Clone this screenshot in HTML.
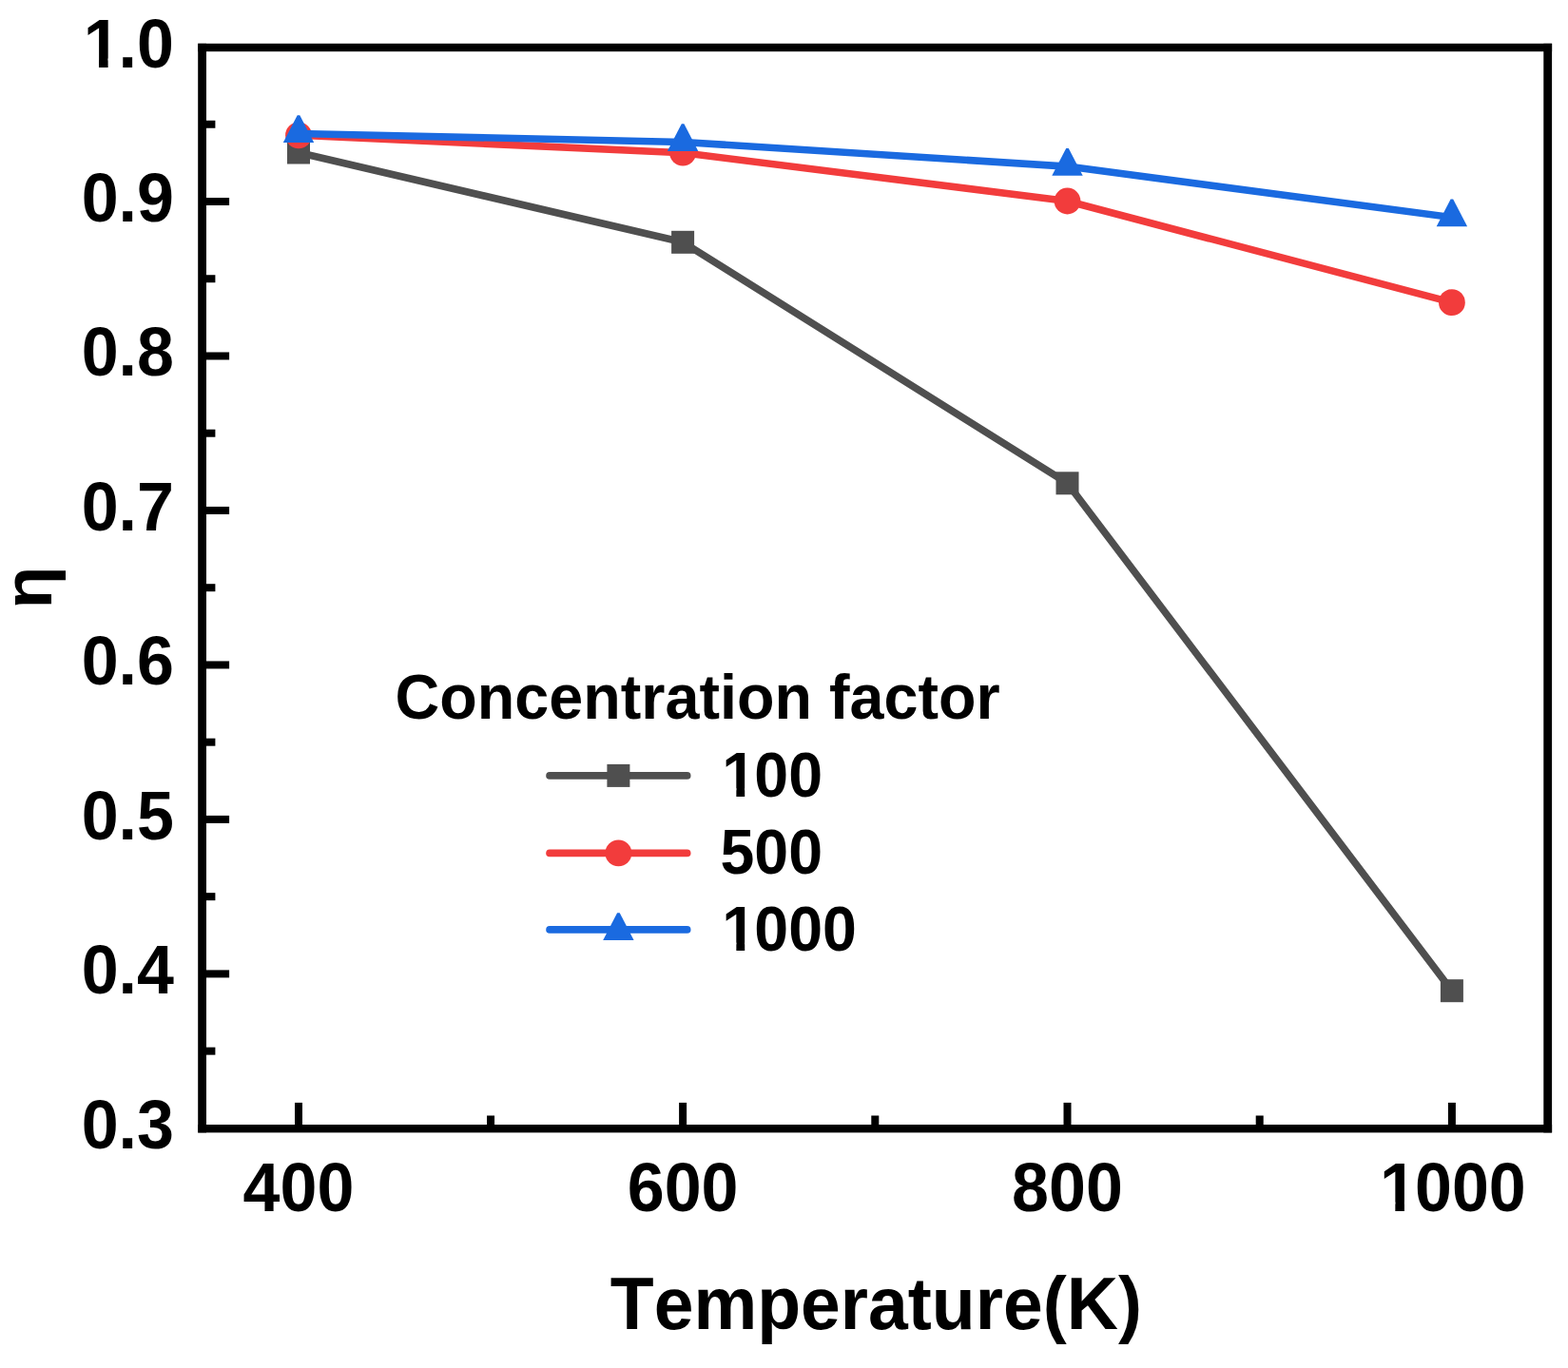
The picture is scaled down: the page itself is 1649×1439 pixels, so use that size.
<!DOCTYPE html>
<html><head><meta charset="utf-8"><title>Efficiency vs temperature</title>
<style>
html,body{margin:0;padding:0;background:#fff;}
svg{display:block;}
text{font-family:"Liberation Sans",Arial,sans-serif;font-weight:bold;fill:#000;font-kerning:none;}
</style></head>
<body>
<svg width="1649" height="1439" viewBox="0 0 1649 1439">
<rect width="1649" height="1439" fill="#fff"/>
<rect x="208.20" y="45.80" width="8.8" height="1145.60" fill="#000"/>
<rect x="1623.30" y="45.80" width="8.8" height="1145.60" fill="#000"/>
<rect x="208.20" y="45.80" width="1423.90" height="8.4" fill="#000"/>
<rect x="208.20" y="1183.00" width="1423.90" height="8.4" fill="#000"/>
<rect x="310.00" y="1159.90" width="8.0" height="27.30" fill="#000"/>
<rect x="512.05" y="1173.50" width="8.0" height="13.70" fill="#000"/>
<rect x="714.10" y="1159.90" width="8.0" height="27.30" fill="#000"/>
<rect x="916.30" y="1173.50" width="8.0" height="13.70" fill="#000"/>
<rect x="1118.50" y="1159.90" width="8.0" height="27.30" fill="#000"/>
<rect x="1320.70" y="1173.50" width="8.0" height="13.70" fill="#000"/>
<rect x="1522.90" y="1159.90" width="8.0" height="27.30" fill="#000"/>
<rect x="212.60" y="1101.64" width="13.80" height="8.0" fill="#000"/>
<rect x="212.60" y="1020.40" width="28.50" height="8.0" fill="#000"/>
<rect x="212.60" y="939.16" width="13.80" height="8.0" fill="#000"/>
<rect x="212.60" y="857.92" width="28.50" height="8.0" fill="#000"/>
<rect x="212.60" y="776.68" width="13.80" height="8.0" fill="#000"/>
<rect x="212.60" y="695.44" width="28.50" height="8.0" fill="#000"/>
<rect x="212.60" y="614.20" width="13.80" height="8.0" fill="#000"/>
<rect x="212.60" y="532.96" width="28.50" height="8.0" fill="#000"/>
<rect x="212.60" y="451.72" width="13.80" height="8.0" fill="#000"/>
<rect x="212.60" y="370.48" width="28.50" height="8.0" fill="#000"/>
<rect x="212.60" y="289.24" width="13.80" height="8.0" fill="#000"/>
<rect x="212.60" y="208.00" width="28.50" height="8.0" fill="#000"/>
<rect x="212.60" y="126.76" width="13.80" height="8.0" fill="#000"/>
<text transform="translate(183.00,1207.88) scale(1,1.035)" text-anchor="end" font-size="70">0.3</text>
<text transform="translate(183.00,1045.40) scale(1,1.035)" text-anchor="end" font-size="70">0.4</text>
<text transform="translate(183.00,882.92) scale(1,1.035)" text-anchor="end" font-size="70">0.5</text>
<text transform="translate(183.00,720.44) scale(1,1.035)" text-anchor="end" font-size="70">0.6</text>
<text transform="translate(183.00,557.96) scale(1,1.035)" text-anchor="end" font-size="70">0.7</text>
<text transform="translate(183.00,395.48) scale(1,1.035)" text-anchor="end" font-size="70">0.8</text>
<text transform="translate(183.00,233.00) scale(1,1.035)" text-anchor="end" font-size="70">0.9</text>
<text transform="translate(85.69,70.52) scale(1,1.035)" font-size="70" dx="1.96 -1.96">1.0</text>
<text transform="translate(314.00,1273.50) scale(1,1.035)" text-anchor="middle" font-size="70">400</text>
<text transform="translate(718.10,1273.50) scale(1,1.035)" text-anchor="middle" font-size="70">600</text>
<text transform="translate(1122.50,1273.50) scale(1,1.035)" text-anchor="middle" font-size="70">800</text>
<text transform="translate(1449.04,1273.50) scale(1,1.035)" font-size="70" dx="1.96 -1.96">1000</text>
<text transform="translate(641.86,1398.20) scale(1,1.035)" font-size="75.1">Temperature(K)</text>
<text transform="translate(54.4,618) rotate(-90)" text-anchor="middle" font-size="73">η</text>
<polyline points="314.00,160.50 718.10,254.80 1122.50,508.30 1526.90,1042.20" fill="none" stroke="#4f4f4f" stroke-width="7.6" stroke-linejoin="round"/>
<rect x="302.00" y="148.50" width="24.0" height="24.0" fill="#4f4f4f"/>
<rect x="706.10" y="242.80" width="24.0" height="24.0" fill="#4f4f4f"/>
<rect x="1110.50" y="496.30" width="24.0" height="24.0" fill="#4f4f4f"/>
<rect x="1514.90" y="1030.20" width="24.0" height="24.0" fill="#4f4f4f"/>
<polyline points="314.00,142.30 718.10,160.70 1122.50,211.50 1526.90,318.20" fill="none" stroke="#f23c3c" stroke-width="7.6" stroke-linejoin="round"/>
<circle cx="314.00" cy="142.30" r="13.9" fill="#f23c3c"/>
<circle cx="718.10" cy="160.70" r="13.9" fill="#f23c3c"/>
<circle cx="1122.50" cy="211.50" r="13.9" fill="#f23c3c"/>
<circle cx="1526.90" cy="318.20" r="13.9" fill="#f23c3c"/>
<polyline points="314.00,140.50 718.10,149.50 1122.50,175.10 1526.90,228.60" fill="none" stroke="#1a6ae0" stroke-width="7.6" stroke-linejoin="round"/>
<polygon points="312.70,121.30 315.30,121.30 330.20,150.10 297.80,150.10" fill="#1a6ae0"/>
<polygon points="716.80,130.30 719.40,130.30 734.30,159.10 701.90,159.10" fill="#1a6ae0"/>
<polygon points="1121.20,155.90 1123.80,155.90 1138.70,184.70 1106.30,184.70" fill="#1a6ae0"/>
<polygon points="1525.60,209.40 1528.20,209.40 1543.10,238.20 1510.70,238.20" fill="#1a6ae0"/>
<text transform="translate(415.60,756.40) scale(1,1.035)" font-size="64.7">Concentration factor</text>
<line x1="578" y1="815.9" x2="722.7" y2="815.9" stroke="#4f4f4f" stroke-width="7.6" stroke-linecap="round"/>
<rect x="638.40" y="803.90" width="24.0" height="24.0" fill="#4f4f4f"/>
<text transform="translate(757.50,837.50) scale(1,1.035)" font-size="64.5" dx="1.81 -1.81">100</text>
<line x1="578" y1="897.4" x2="722.7" y2="897.4" stroke="#f23c3c" stroke-width="7.6" stroke-linecap="round"/>
<circle cx="650.40" cy="897.40" r="13.9" fill="#f23c3c"/>
<text transform="translate(757.50,919.40) scale(1,1.035)" font-size="64.5">500</text>
<line x1="578" y1="977.9" x2="722.7" y2="977.9" stroke="#1a6ae0" stroke-width="7.6" stroke-linecap="round"/>
<polygon points="649.10,960.20 651.70,960.20 666.60,989.00 634.20,989.00" fill="#1a6ae0"/>
<text transform="translate(757.50,1000.00) scale(1,1.035)" font-size="64.5" dx="1.81 -1.81">1000</text>
<rect x="89.56" y="61.53" width="14.43" height="10.49" fill="#fff"/>
<rect x="113.59" y="61.53" width="12.04" height="10.49" fill="#fff"/>
<rect x="1452.91" y="1264.51" width="14.43" height="10.49" fill="#fff"/>
<rect x="1476.94" y="1264.51" width="12.04" height="10.49" fill="#fff"/>
<rect x="760.87" y="829.09" width="13.49" height="9.91" fill="#fff"/>
<rect x="783.21" y="829.09" width="11.17" height="9.91" fill="#fff"/>
<rect x="760.87" y="991.59" width="13.49" height="9.91" fill="#fff"/>
<rect x="783.21" y="991.59" width="11.17" height="9.91" fill="#fff"/>
</svg>
</body></html>
